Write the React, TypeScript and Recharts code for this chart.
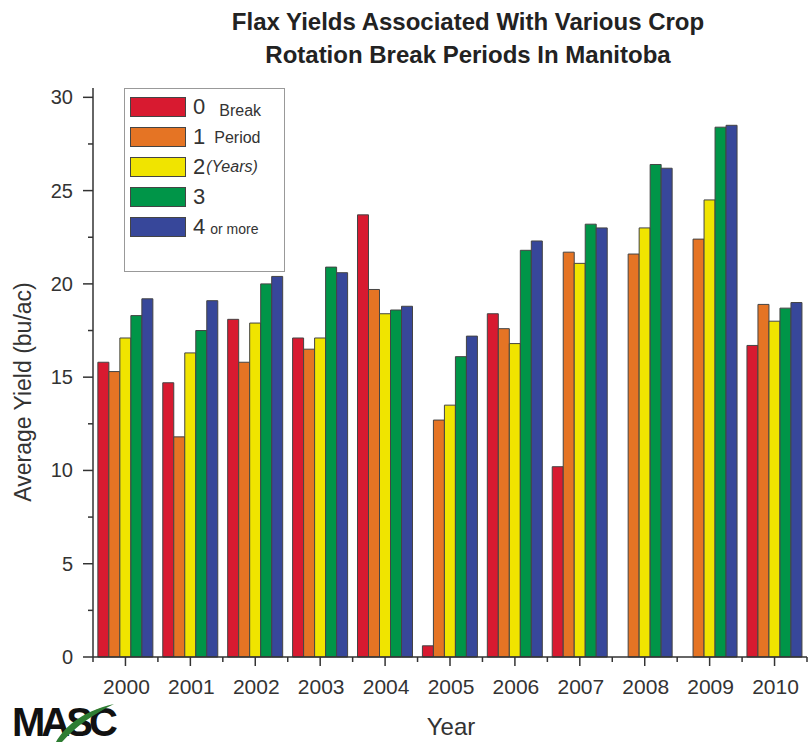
import React from "react"
import { BarChart, Bar, XAxis, YAxis } from "recharts"

const years = ["2000", "2001", "2002", "2003", "2004", "2005", "2006", "2007", "2008", "2009", "2010"]
const break0 = [15.8, 14.7, 18.1, 17.1, 23.7, 0.6, 18.4, 10.2, null, null, 16.7]
const break1 = [15.3, 11.8, 15.8, 16.5, 19.7, 12.7, 17.6, 21.7, 21.6, 22.4, 18.9]
const break2 = [17.1, 16.3, 17.9, 17.1, 18.4, 13.5, 16.8, 21.1, 23.0, 24.5, 18.0]
const break3 = [18.3, 17.5, 20.0, 20.9, 18.6, 16.1, 21.8, 23.2, 26.4, 28.4, 18.7]
const break4 = [19.2, 19.1, 20.4, 20.6, 18.8, 17.2, 22.3, 23.0, 26.2, 28.5, 19.0]
const yTicks = [0, 2.5, 5, 7.5, 10, 12.5, 15, 17.5, 20, 22.5, 25, 27.5, 30]

const series = [
  { key: "b0", values: break0, color: "#d81a30", num: "0", label: "Break", size: 16, italic: false, dy: 4, gap: 14 },
  { key: "b1", values: break1, color: "#e57424", num: "1", label: "Period", size: 16, italic: false, dy: 1, gap: 9 },
  { key: "b2", values: break2, color: "#f0e400", num: "2", label: "(Years)", size: 16, italic: true, dy: 0, gap: 1 },
  { key: "b3", values: break3, color: "#009548", num: "3", label: "", size: 16, italic: false, dy: 0, gap: 0 },
  { key: "b4", values: break4, color: "#37479a", num: "4", label: "or more", size: 14, italic: false, dy: 2, gap: 5 },
]

const data = years.map((year, i) => {
  const row: Record<string, string | number | null> = { year }
  series.forEach((s) => {
    row[s.key] = s.values[i]
  })
  return row
})

const W = 812
const H = 746
const LEFT = 93
const RIGHT = 5
const BOTTOM = 89
const band = (W - LEFT - RIGHT) / years.length
const font = "'Liberation Sans', Arial, sans-serif"
const axisColor = "#333"
const textColor = "#333"

const YTick = (props: any) => {
  const { x, y, payload } = props
  const major = payload.value % 5 === 0
  return (
    <g>
      <line x1={x - (major ? 10 : 5)} x2={x} y1={y} y2={y} stroke={axisColor} strokeWidth={1.5} />
      {major && (
        <text x={x - 20} y={y} dy={7} textAnchor="end" fontSize={20} fill={textColor} fontFamily={font}>
          {payload.value}
        </text>
      )}
    </g>
  )
}

const XTick = (props: any) => {
  const { x, y, payload, index } = props
  return (
    <g>
      <line x1={x} x2={x} y1={y} y2={y + 9} stroke={axisColor} strokeWidth={1.5} />
      <line x1={x - band / 2} x2={x - band / 2} y1={y} y2={y + 5} stroke={axisColor} strokeWidth={1.5} />
      {index === years.length - 1 && (
        <line x1={x + band / 2} x2={x + band / 2} y1={y} y2={y + 5} stroke={axisColor} strokeWidth={1.5} />
      )}
      <text x={x + 1} y={y + 37} textAnchor="middle" fontSize={21} fill={textColor} fontFamily={font}>
        {payload.value}
      </text>
    </g>
  )
}

const LegendBox = () => (
  <div
    style={{
      position: "absolute",
      left: 124,
      top: 88,
      width: 161,
      height: 184,
      border: "1.5px solid #999",
      background: "#fff",
      boxSizing: "border-box",
      paddingTop: 3,
      fontFamily: font,
      color: textColor,
    }}
  >
    {series.map((s) => (
      <div key={s.key} style={{ display: "flex", alignItems: "center", height: 30 }}>
        <div
          style={{
            width: 56,
            height: 20,
            marginLeft: 5,
            background: s.color,
            border: "1.5px solid #444",
            boxSizing: "border-box",
          }}
        />
        <span style={{ fontSize: 22, marginLeft: 7 }}>{s.num}</span>
        <span
          style={{
            fontSize: s.size,
            marginLeft: s.gap,
            fontStyle: s.italic ? "italic" : "normal",
            position: "relative",
            top: s.dy,
          }}
        >
          {s.label}
        </span>
      </div>
    ))}
  </div>
)

export default function App() {
  return (
    <div style={{ position: "absolute", left: 0, top: 0, width: W, height: H, background: "#fff", fontFamily: font }}>
      <div
        style={{
          position: "absolute",
          left: 0,
          width: 936,
          top: 5,
          textAlign: "center",
          fontWeight: "bold",
          fontSize: 24,
          lineHeight: "33px",
          color: "#222",
        }}
      >
        Flax Yields Associated With Various Crop
        <br />
        Rotation Break Periods In Manitoba
      </div>
      <BarChart
        width={W}
        height={H}
        data={data}
        margin={{ top: 88, right: RIGHT, left: 0, bottom: 0 }}
        barCategoryGap="7.5%"
        barGap={0}
      >
        <XAxis
          dataKey="year"
          height={BOTTOM}
          tickLine={false}
          tickSize={0}
          tickMargin={0}
          tick={<XTick />}
          axisLine={{ stroke: axisColor, strokeWidth: 1.5 }}
          interval={0}
        />
        <YAxis
          width={LEFT}
          domain={[0, 30.5]}
          ticks={yTicks}
          interval={0}
          tickLine={false}
          tickSize={0}
          tickMargin={0}
          tick={<YTick />}
          axisLine={{ stroke: axisColor, strokeWidth: 1.5 }}
        />
        {series.map((s) => (
          <Bar
            key={s.key}
            dataKey={s.key}
            fill={s.color}
            stroke="#444"
            strokeWidth={1}
            isAnimationActive={false}
          />
        ))}
      </BarChart>
      <LegendBox />
      <div
        style={{
          position: "absolute",
          left: 23,
          top: 392,
          transform: "translate(-50%, -50%) rotate(-90deg)",
          whiteSpace: "nowrap",
          fontSize: 23,
          color: textColor,
        }}
      >
        Average Yield (bu/ac)
      </div>
      <div
        style={{
          position: "absolute",
          left: 451,
          top: 727,
          transform: "translate(-50%, -50%)",
          fontSize: 24,
          color: textColor,
        }}
      >
        Year
      </div>
      <div
        style={{
          position: "absolute",
          left: 12,
          top: 700,
          fontSize: 40,
          fontWeight: "bold",
          letterSpacing: -4,
          color: "#111",
          lineHeight: "44px",
        }}
      >
        MASC
      </div>
      <svg style={{ position: "absolute", left: 52, top: 702 }} width={66} height={42}>
        <path d="M4 40 C 12 26, 28 10, 62 2 C 42 12, 24 24, 10 40 Z" fill="#2e7d32" />
      </svg>
    </div>
  )
}
